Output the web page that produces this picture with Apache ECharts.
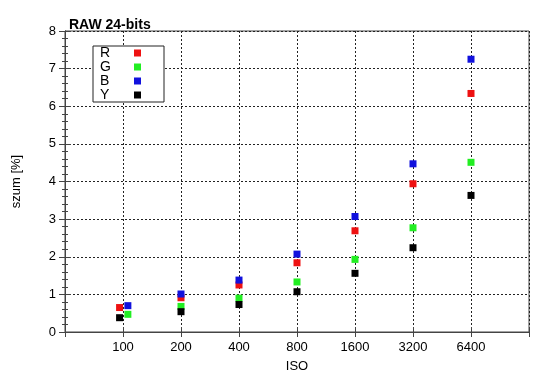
<!DOCTYPE html>
<html><head><meta charset="utf-8">
<script src="https://cdn.jsdelivr.net/npm/echarts@6/dist/echarts.min.js"></script>
<style>html,body{margin:0;padding:0;background:#fff}#c{width:550px;height:389px}</style>
</head><body><div id="c"></div>
<script>
var isoLabels = ['100','200','400','800','1600','3200','6400'];
// ISO positions (slightly offset at 100 in the reference to avoid overlap)
var isoR = [96, 200, 400, 800, 1600, 3200, 6400];
var isoG = [106, 200, 400, 800, 1600, 3200, 6400];
var isoB = [106, 200, 400, 800, 1600, 3200, 6400];
var isoY = [96, 200, 400, 800, 1600, 3200, 6400];
var noiseR = [0.65, 0.91, 1.25, 1.84, 2.69, 3.94, 6.34];
var noiseG = [0.47, 0.68, 0.90, 1.33, 1.93, 2.77, 4.51];
var noiseB = [0.70, 1.01, 1.38, 2.07, 3.07, 4.47, 7.25];
var noiseY = [0.38, 0.54, 0.73, 1.07, 1.56, 2.24, 3.63];

function pos(iso){ return Math.log2(iso/50); }
function pts(xs, ys){ return xs.map(function(x,i){ return [pos(x), ys[i]]; }); }

var font = "'Liberation Sans', Arial, Helvetica, sans-serif";
var chart = echarts.init(document.getElementById('c'));
var gridLine = {show:true, lineStyle:{color:'#222', type:[2,2], width:1}};
function ser(name, color, xs, ys){
  return {name:name, type:'scatter', symbol:'rect', symbolSize:7, xAxisIndex:0, yAxisIndex:0,
    itemStyle:{color:color, opacity:1}, data:pts(xs, ys)};
}
chart.setOption({
  animation:false,
  textStyle:{fontFamily:font},
  title:{text:'RAW 24-bits', left:64, top:13, textStyle:{fontFamily:font, fontSize:14, fontWeight:'bold', color:'#000'}},
  grid:{left:65, right:21, top:31, bottom:57, show:true, borderColor:'#444', borderWidth:1},
  legend:{orient:'vertical', left:93, top:46, align:'right', itemGap:0, itemWidth:7, itemHeight:7,
    icon:'rect', padding:[0,23,0,7], borderColor:'#222', borderWidth:1, backgroundColor:'#fff',
    formatter:function(n){return '{n|'+n+'}';},
    textStyle:{fontFamily:font, fontSize:14, color:'#000', rich:{n:{width:29, align:'left', lineHeight:13.6, fontSize:14, fontFamily:font}}},
    data:['R','G','B','Y']},
  xAxis:[{type:'value', min:0, max:8, interval:1, position:'bottom',
    name:'ISO', nameLocation:'middle', nameGap:28, nameTextStyle:{fontFamily:font, fontSize:13, color:'#000'},
    axisLine:{show:true, lineStyle:{color:'#444'}}, axisTick:{show:true, inside:true, length:5, lineStyle:{color:'#444'}},
    axisLabel:{margin:9, fontSize:13, color:'#000', fontFamily:font,
      formatter:function(v){ return (v>=1 && v<=7) ? isoLabels[v-1] : ''; }},
    splitLine:gridLine},
   {type:'value', min:0, max:8, interval:1, position:'top',
    axisLine:{show:true, lineStyle:{color:'#444'}}, axisTick:{show:true, inside:true, length:5, lineStyle:{color:'#444'}},
    axisLabel:{show:false}, splitLine:{show:false}}],
  yAxis:[{type:'value', min:0, max:8, interval:1, position:'left',
    name:'szum [%]', nameLocation:'middle', nameGap:42, nameTextStyle:{fontFamily:font, fontSize:13, color:'#000'},
    axisLine:{show:true, lineStyle:{color:'#444'}}, axisTick:{show:true, inside:true, length:6, lineStyle:{color:'#444'}},
    minorTick:{show:true, splitNumber:5, length:3, lineStyle:{color:'#444'}},
    axisLabel:{margin:9, fontSize:13, color:'#000', fontFamily:font},
    splitLine:gridLine},
   {type:'value', min:0, max:8, interval:1, position:'right',
    axisLine:{show:true, lineStyle:{color:'#444'}}, axisTick:{show:true, inside:true, length:6, lineStyle:{color:'#444'}},
    minorTick:{show:true, splitNumber:5, length:3, lineStyle:{color:'#444'}},
    axisLabel:{show:false}, splitLine:{show:false}}],
  series:[
    ser('R', '#ee1111', isoR, noiseR),
    ser('G', '#22ee22', isoG, noiseG),
    ser('B', '#1111dd', isoB, noiseB),
    ser('Y', '#000000', isoY, noiseY)
  ]
});
</script></body></html>
